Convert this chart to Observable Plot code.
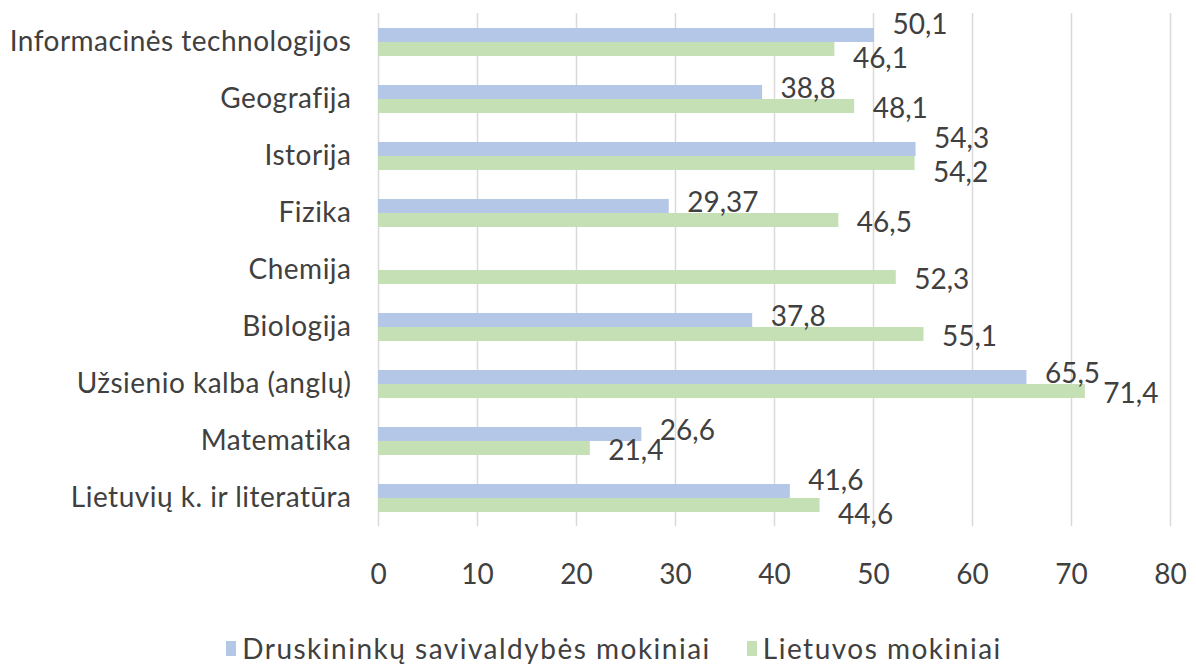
<!DOCTYPE html>
<html>
<head>
<meta charset="utf-8">
<script src="https://cdn.jsdelivr.net/npm/d3@7"></script>
<script src="https://cdn.jsdelivr.net/npm/@observablehq/plot@0.6"></script>
<style>
  html, body { margin: 0; padding: 0; background: #fff; }
  #chart { width: 1196px; }
  .legend { display: flex; justify-content: center; align-items: center; gap: 36px;
    font-family: Lato, sans-serif; font-size: 28px; letter-spacing: 1.5px; color: #404040;
    padding-top: 20px; line-height: 32px; padding-left: 32px; }
  .legend span.item { display: inline-flex; align-items: center; gap: 6px; }
  .legend i { display: inline-block; width: 10px; height: 15px; }
  #chart svg g[aria-label="fy-axis tick label"] text { letter-spacing: 0.5px; }
</style>
</head>
<body>
<div id="chart"></div>
<script>
const categories = [
  "Informacinės technologijos",
  "Geografija",
  "Istorija",
  "Fizika",
  "Chemija",
  "Biologija",
  "Užsienio kalba (anglų)",
  "Matematika",
  "Lietuvių k. ir literatūra"
];
const seriesNames = ["Druskininkų savivaldybės mokiniai", "Lietuvos mokiniai"];
const druskininkai = [50.1, 38.8, 54.3, 29.37, null, 37.8, 65.5, 26.6, 41.6];
const lietuva = [46.1, 48.1, 54.2, 46.5, 52.3, 55.1, 71.4, 21.4, 44.6];
const xTicks = [0, 10, 20, 30, 40, 50, 60, 70, 80];
const colors = ["#b4c7e7", "#c5e0b4"];

// labels of a pair whose values are close would collide; spread them further apart
const rows = categories.flatMap((c, i) => {
  const a = druskininkai[i], b = lietuva[i];
  const tight = a != null && b != null && Math.abs(a - b) < 4.5;
  return [
    {category: c, series: seriesNames[0], value: a, tight},
    {category: c, series: seriesNames[1], value: b, tight}
  ];
}).filter(d => d.value != null);

const fmt = v => String(v).replace(".", ",");
const labelMark = (series, tight, dy) => Plot.text(
  rows.filter(d => d.series === series && d.tight === tight),
  {x: "value", y: "series", fy: "category", text: d => fmt(d.value),
   textAnchor: "start", dx: 18, dy, fill: "#404040", fontSize: 28});

const chart = Plot.plot({
  width: 1196,
  height: 612,
  marginLeft: 378,
  marginRight: 26,
  marginTop: 9,
  marginBottom: 83,
  style: {fontFamily: "Lato, sans-serif", fontSize: "28px", color: "#404040", background: "#fff"},
  x: {domain: [0, 80], ticks: xTicks},
  y: {domain: seriesNames, paddingInner: 0, paddingOuter: 0.98, axis: null},
  fy: {domain: categories, paddingInner: 0, paddingOuter: 0, label: null},
  color: {domain: seriesNames, range: colors},
  marks: [
    Plot.gridX(xTicks, {stroke: "#d9d9d9", strokeOpacity: 1, strokeWidth: 1.5}),
    Plot.barX(rows, {x: "value", y: "series", fy: "category", fill: "series"}),
    labelMark(seriesNames[0], false, -3),
    labelMark(seriesNames[1], false, 3),
    labelMark(seriesNames[0], true, -10),
    labelMark(seriesNames[1], true, 10),
    Plot.axisX(xTicks, {tickSize: 0, tickPadding: 38, label: null, tickFormat: d => String(d), fill: "#404040"}),
    Plot.axisFy({anchor: "left", tickSize: 0, tickPadding: 27, label: null, fill: "#404040"})
  ]
});
document.getElementById("chart").appendChild(chart);

const legend = document.createElement("div");
legend.className = "legend";
seriesNames.forEach((s, i) => {
  const item = document.createElement("span");
  item.className = "item";
  const sw = document.createElement("i");
  sw.style.background = colors[i];
  item.appendChild(sw);
  item.appendChild(document.createTextNode(s));
  legend.appendChild(item);
});
document.getElementById("chart").appendChild(legend);
</script>
</body>
</html>
